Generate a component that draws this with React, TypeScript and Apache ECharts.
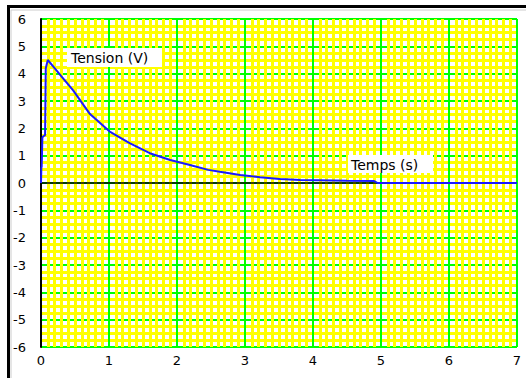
import React, { useEffect, useRef } from "react";
import * as echarts from "echarts";

const times = [0, 0.005, 0.01, 0.02, 0.03, 0.06, 0.07, 0.1, 0.2, 0.3, 0.47, 0.72, 1.01, 1.31, 1.6, 1.9, 2.19, 2.46, 2.63, 2.93, 3.22, 3.51, 3.81, 4.07, 4.5, 4.9, 4.95, 7];
const tension = [0, 0.55, 0.6, 1.65, 1.7, 1.75, 4.2, 4.5, 4.2, 3.9, 3.4, 2.52, 1.88, 1.45, 1.09, 0.84, 0.66, 0.48, 0.41, 0.29, 0.21, 0.15, 0.11, 0.1, 0.08, 0.07, 0, 0];
const xRange = [0, 7];
const yRange = [-6, 6];
const yLabel = "Tension (V)";
const xLabel = "Temps (s)";

const FONT = "DejaVu Sans";

export default function App() {
  const ref = useRef<HTMLDivElement>(null);
  useEffect(() => {
    if (!ref.current) return;
    const chart = echarts.init(ref.current, null, { renderer: "svg" });
    chart.setOption({
      animation: false,
      backgroundColor: "#ffffff",
      grid: { left: 41, top: 19, right: 9, bottom: 31, show: false },
      xAxis: {
        type: "value",
        min: xRange[0],
        max: xRange[1],
        interval: 1,
        axisLine: { show: false },
        axisTick: { show: false },
        axisLabel: { color: "#000", fontFamily: FONT, fontSize: 13, margin: 7 },
        splitLine: { show: true, lineStyle: { color: "#00ff00", width: 2 } },
        minorTick: { show: false, splitNumber: 10 },
        minorSplitLine: { show: true, lineStyle: { color: "#ffff00", width: 3 } },
      },
      yAxis: {
        type: "value",
        min: yRange[0],
        max: yRange[1],
        interval: 1,
        axisLine: { show: true, onZero: false, lineStyle: { color: "#000", width: 2 } },
        axisTick: { show: false },
        axisLabel: { color: "#000", fontFamily: FONT, fontSize: 13, margin: 15 },
        splitLine: { show: true, lineStyle: { color: "#00ff00", width: 2 } },
        minorTick: { show: false, splitNumber: 4 },
        minorSplitLine: { show: true, lineStyle: { color: "#ffff00", width: 3 } },
      },
      series: [
        {
          type: "line",
          data: xRange.map((x) => [x, 0]),
          symbol: "none",
          silent: true,
          lineStyle: { color: "#000", width: 1.5 },
          z: 2,
        },
        {
          type: "line",
          data: times.map((t, i) => [t, tension[i]]),
          symbol: "none",
          silent: true,
          lineStyle: { color: "#1a1aff", width: 2 },
          z: 3,
        },
      ],
      graphic: {
        elements: [
          { type: "polyline", shape: { points: [[8.5, 378], [8.5, 6.5], [526, 6.5]] }, style: { stroke: "#000000", lineWidth: 3, fill: null }, z: 10 },
          { type: "polyline", shape: { points: [[11, 378], [11, 10], [526, 10]] }, style: { stroke: "#cccccc", lineWidth: 1, fill: null }, z: 10 },
          { type: "rect", shape: { x: 67, y: 48, width: 95, height: 19 }, style: { fill: "#ffffff" }, z: 20 },
          { type: "text", x: 71, y: 58, style: { text: yLabel, fill: "#000", font: `14px '${FONT}'`, verticalAlign: "middle" }, z: 21 },
          { type: "rect", shape: { x: 348, y: 155, width: 85, height: 18 }, style: { fill: "#ffffff" }, z: 20 },
          { type: "text", x: 351, y: 164.5, style: { text: xLabel, fill: "#000", font: `14px '${FONT}'`, verticalAlign: "middle" }, z: 21 },
        ],
      },
    });
    return () => chart.dispose();
  }, []);
  return <div ref={ref} style={{ position: "fixed", left: 0, top: 0, width: 526, height: 378 }} />;
}
